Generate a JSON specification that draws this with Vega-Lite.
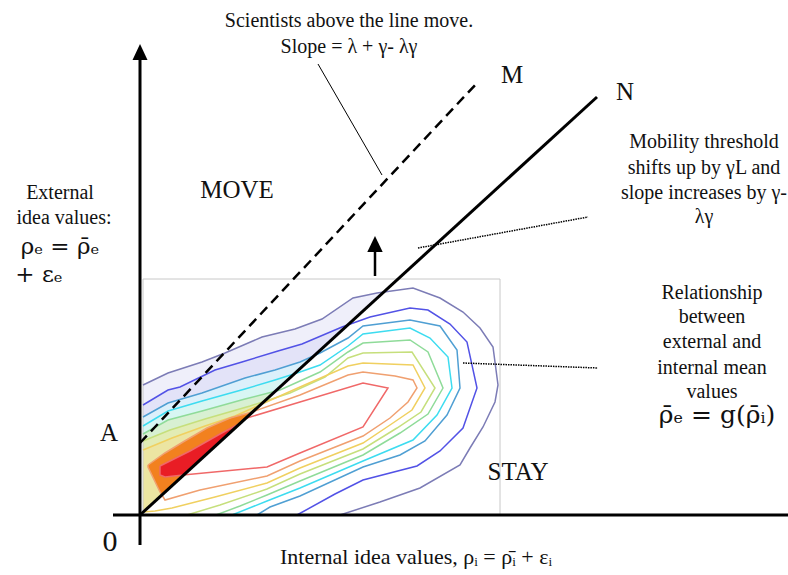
{
  "$schema": "https://vega.github.io/schema/vega-lite/v6.json",
  "width": 788,
  "height": 575,
  "autosize": {"type": "none"},
  "padding": 0,
  "background": "white",
  "config": {"view": {"stroke": null}},
  "datasets": {
    "contours": [
      {"l":"L1","i":0,"x":3,"y":130},{"l":"L1","i":1,"x":28,"y":142},{"l":"L1","i":2,"x":62,"y":153},{"l":"L1","i":3,"x":85,"y":162},{"l":"L1","i":4,"x":122,"y":178},{"l":"L1","i":5,"x":155,"y":186},{"l":"L1","i":6,"x":182,"y":196},{"l":"L1","i":7,"x":213,"y":217},{"l":"L1","i":8,"x":237,"y":222},{"l":"L1","i":9,"x":273,"y":227},{"l":"L1","i":10,"x":300,"y":217},{"l":"L1","i":11,"x":323,"y":203},{"l":"L1","i":12,"x":340,"y":187},{"l":"L1","i":13,"x":353,"y":168},{"l":"L1","i":14,"x":358,"y":130},{"l":"L1","i":15,"x":355,"y":113},{"l":"L1","i":16,"x":343,"y":88},{"l":"L1","i":17,"x":330,"y":67},{"l":"L1","i":18,"x":320,"y":50},{"l":"L1","i":19,"x":280,"y":27},{"l":"L1","i":20,"x":240,"y":13},{"l":"L1","i":21,"x":200,"y":0},{"l":"L1","i":22,"x":3,"y":0,"b":1},
      {"l":"L2","i":23,"x":3,"y":110},{"l":"L2","i":24,"x":28,"y":125},{"l":"L2","i":25,"x":40,"y":128},{"l":"L2","i":26,"x":75,"y":145},{"l":"L2","i":27,"x":102,"y":153},{"l":"L2","i":28,"x":138,"y":164},{"l":"L2","i":29,"x":162,"y":171},{"l":"L2","i":30,"x":202,"y":188},{"l":"L2","i":31,"x":230,"y":198},{"l":"L2","i":32,"x":270,"y":207},{"l":"L2","i":33,"x":288,"y":205},{"l":"L2","i":34,"x":310,"y":191},{"l":"L2","i":35,"x":327,"y":173},{"l":"L2","i":36,"x":337,"y":127},{"l":"L2","i":37,"x":323,"y":87},{"l":"L2","i":38,"x":300,"y":64},{"l":"L2","i":39,"x":277,"y":49},{"l":"L2","i":40,"x":223,"y":35},{"l":"L2","i":41,"x":195,"y":21},{"l":"L2","i":42,"x":157,"y":0},{"l":"L2","i":43,"x":3,"y":0,"b":1},
      {"l":"L3","i":44,"x":3,"y":98},{"l":"L3","i":45,"x":28,"y":112},{"l":"L3","i":46,"x":62,"y":122},{"l":"L3","i":47,"x":105,"y":137},{"l":"L3","i":48,"x":135,"y":145},{"l":"L3","i":49,"x":160,"y":153},{"l":"L3","i":50,"x":180,"y":162},{"l":"L3","i":51,"x":208,"y":177},{"l":"L3","i":52,"x":223,"y":189},{"l":"L3","i":53,"x":270,"y":195},{"l":"L3","i":54,"x":300,"y":189},{"l":"L3","i":55,"x":317,"y":165},{"l":"L3","i":56,"x":320,"y":127},{"l":"L3","i":57,"x":307,"y":100},{"l":"L3","i":58,"x":285,"y":74},{"l":"L3","i":59,"x":260,"y":60},{"l":"L3","i":60,"x":223,"y":48},{"l":"L3","i":61,"x":160,"y":19},{"l":"L3","i":62,"x":130,"y":8},{"l":"L3","i":63,"x":117,"y":0},{"l":"L3","i":64,"x":3,"y":0,"b":1},
      {"l":"L4","i":65,"x":3,"y":89},{"l":"L4","i":66,"x":28,"y":104},{"l":"L4","i":67,"x":62,"y":114},{"l":"L4","i":68,"x":105,"y":126},{"l":"L4","i":69,"x":135,"y":135},{"l":"L4","i":70,"x":160,"y":143},{"l":"L4","i":71,"x":180,"y":150},{"l":"L4","i":72,"x":208,"y":169},{"l":"L4","i":73,"x":223,"y":181},{"l":"L4","i":74,"x":270,"y":187},{"l":"L4","i":75,"x":290,"y":177},{"l":"L4","i":76,"x":308,"y":158},{"l":"L4","i":77,"x":312,"y":127},{"l":"L4","i":78,"x":297,"y":100},{"l":"L4","i":79,"x":273,"y":75},{"l":"L4","i":80,"x":223,"y":54},{"l":"L4","i":81,"x":160,"y":27},{"l":"L4","i":82,"x":127,"y":14},{"l":"L4","i":83,"x":92,"y":0},{"l":"L4","i":84,"x":3,"y":0,"b":1},
      {"l":"L5","i":85,"x":3,"y":81},{"l":"L5","i":86,"x":28,"y":95},{"l":"L5","i":87,"x":62,"y":104},{"l":"L5","i":88,"x":105,"y":116},{"l":"L5","i":89,"x":140,"y":125},{"l":"L5","i":90,"x":180,"y":143},{"l":"L5","i":91,"x":208,"y":163},{"l":"L5","i":92,"x":223,"y":172},{"l":"L5","i":93,"x":270,"y":175},{"l":"L5","i":94,"x":288,"y":163},{"l":"L5","i":95,"x":303,"y":127},{"l":"L5","i":96,"x":288,"y":101},{"l":"L5","i":97,"x":260,"y":82},{"l":"L5","i":98,"x":223,"y":60},{"l":"L5","i":99,"x":160,"y":34},{"l":"L5","i":100,"x":127,"y":20},{"l":"L5","i":101,"x":100,"y":9},{"l":"L5","i":102,"x":76,"y":0},{"l":"L5","i":103,"x":3,"y":0,"b":1},
      {"l":"L6","i":104,"x":3,"y":74},{"l":"L6","i":105,"x":30,"y":85},{"l":"L6","i":106,"x":65,"y":96},{"l":"L6","i":107,"x":110,"y":109},{"l":"L6","i":108,"x":150,"y":122},{"l":"L6","i":109,"x":185,"y":138},{"l":"L6","i":110,"x":208,"y":157},{"l":"L6","i":111,"x":223,"y":162},{"l":"L6","i":112,"x":272,"y":163},{"l":"L6","i":113,"x":295,"y":127},{"l":"L6","i":114,"x":281,"y":103},{"l":"L6","i":115,"x":257,"y":87},{"l":"L6","i":116,"x":223,"y":66},{"l":"L6","i":117,"x":160,"y":41},{"l":"L6","i":118,"x":127,"y":26},{"l":"L6","i":119,"x":80,"y":10},{"l":"L6","i":120,"x":47,"y":0},{"l":"L6","i":121,"x":3,"y":0,"b":1},
      {"l":"L7","i":122,"x":3,"y":65},{"l":"L7","i":123,"x":32,"y":77},{"l":"L7","i":124,"x":65,"y":89},{"l":"L7","i":125,"x":95,"y":99},{"l":"L7","i":126,"x":122,"y":111},{"l":"L7","i":127,"x":160,"y":128},{"l":"L7","i":128,"x":208,"y":149},{"l":"L7","i":129,"x":223,"y":152},{"l":"L7","i":130,"x":273,"y":150},{"l":"L7","i":131,"x":285,"y":127},{"l":"L7","i":132,"x":272,"y":105},{"l":"L7","i":133,"x":250,"y":90},{"l":"L7","i":134,"x":223,"y":72},{"l":"L7","i":135,"x":160,"y":47},{"l":"L7","i":136,"x":127,"y":32},{"l":"L7","i":137,"x":75,"y":18},{"l":"L7","i":138,"x":32,"y":7},{"l":"L7","i":139,"x":15,"y":4},{"l":"L7","i":140,"x":3,"y":3},
      {"l":"L8","i":141,"x":8,"y":50},{"l":"L8","i":142,"x":25,"y":62},{"l":"L8","i":143,"x":43,"y":73},{"l":"L8","i":144,"x":67,"y":87},{"l":"L8","i":145,"x":90,"y":97},{"l":"L8","i":146,"x":112,"y":103},{"l":"L8","i":147,"x":160,"y":120},{"l":"L8","i":148,"x":208,"y":140},{"l":"L8","i":149,"x":223,"y":143},{"l":"L8","i":150,"x":255,"y":139},{"l":"L8","i":151,"x":273,"y":135},{"l":"L8","i":152,"x":277,"y":127},{"l":"L8","i":153,"x":268,"y":113},{"l":"L8","i":154,"x":250,"y":97},{"l":"L8","i":155,"x":223,"y":79},{"l":"L8","i":156,"x":160,"y":54},{"l":"L8","i":157,"x":127,"y":39},{"l":"L8","i":158,"x":60,"y":25},{"l":"L8","i":159,"x":25,"y":15},{"l":"L8","i":160,"x":20,"y":23},{"l":"L8","i":161,"x":8,"y":48},{"l":"L8","i":162,"x":8,"y":50},
      {"l":"L9","i":163,"x":20,"y":49},{"l":"L9","i":164,"x":50,"y":64},{"l":"L9","i":165,"x":80,"y":81},{"l":"L9","i":166,"x":97,"y":90},{"l":"L9","i":167,"x":107,"y":97},{"l":"L9","i":168,"x":160,"y":113},{"l":"L9","i":169,"x":223,"y":132},{"l":"L9","i":170,"x":248,"y":127},{"l":"L9","i":171,"x":223,"y":88},{"l":"L9","i":172,"x":160,"y":62},{"l":"L9","i":173,"x":127,"y":48},{"l":"L9","i":174,"x":43,"y":40},{"l":"L9","i":175,"x":25,"y":38},{"l":"L9","i":176,"x":20,"y":40},{"l":"L9","i":177,"x":20,"y":49}
    ],
    "shapes": [
      {"s":"cover","i":0,"x":0,"y":0},{"s":"cover","i":1,"x":380,"y":0},{"s":"cover","i":2,"x":380,"y":347.7},
      {"s":"arrowV","i":0,"x":0,"y":471},{"s":"arrowV","i":1,"x":-7.5,"y":455},{"s":"arrowV","i":2,"x":7.5,"y":455},
      {"s":"arrowC","i":0,"x":235,"y":279},{"s":"arrowC","i":1,"x":227.3,"y":263},{"s":"arrowC","i":2,"x":242.7,"y":263}
    ],
    "segs": [
      {"k":"axis","x":0,"y":-30,"x2":0,"y2":456},
      {"k":"axis","x":-27,"y":0,"x2":648,"y2":0},
      {"k":"N","x":0,"y":0,"x2":457,"y2":418},
      {"k":"M","x":0,"y":72,"x2":337,"y2":432},
      {"k":"thin","x":178,"y":451,"x2":242,"y2":340},
      {"k":"dot","x":278,"y":267,"x2":448,"y2":298},
      {"k":"dot","x":323,"y":152,"x2":458,"y2":147},
      {"k":"shaft","x":235,"y":239,"x2":235,"y2":264}
    ],
    "box": [{"x":3,"y":0,"x2":360,"y2":236}],
    "texts": [
      {"g":"body","label":"Scientists above the line move.","x":209,"y":494},
      {"g":"body","label":"Slope = λ + γ- λγ","x":209,"y":468},
      {"g":"body","label":"Mobility threshold","x":564,"y":373},
      {"g":"body","label":"shifts up by γL and","x":564,"y":347},
      {"g":"body","label":"slope increases by γ-","x":564,"y":322},
      {"g":"body","label":"λγ","x":564,"y":298},
      {"g":"body","label":"Relationship","x":572,"y":222},
      {"g":"body","label":"between","x":572,"y":198},
      {"g":"body","label":"external and","x":572,"y":173},
      {"g":"body","label":"internal mean","x":572,"y":147},
      {"g":"body","label":"values","x":572,"y":123},
      {"g":"body","label":"External","x":-80,"y":322},
      {"g":"body","label":"idea values:","x":-76,"y":297},
      {"g":"xlab","label":"Internal idea values, ρᵢ = ρ̄ᵢ + εᵢ","x":276,"y":-42},
      {"g":"cap","label":"MOVE","x":97,"y":325},
      {"g":"cap","label":"STAY","x":378,"y":43},
      {"g":"cap","label":"A","x":-31,"y":82},
      {"g":"cap","label":"M","x":372,"y":440},
      {"g":"cap","label":"N","x":485,"y":423},
      {"g":"zero","label":"0","x":-30,"y":-27},
      {"g":"math","label":"ρₑ = ρ̄ₑ","x":-80,"y":268},
      {"g":"math","label":"+ εₑ","x":-101,"y":240},
      {"g":"formula","label":"ρ̄ₑ = g(ρ̄ᵢ)","x":577,"y":100}
    ]
  },
  "encoding": {
    "x": {"field": "x", "type": "quantitative", "scale": {"domain": [-140, 648], "nice": false, "zero": false}, "axis": null},
    "y": {"field": "y", "type": "quantitative", "scale": {"domain": [-60, 515], "nice": false, "zero": false}, "axis": null}
  },
  "layer": [
    {
      "data": {"name": "contours"},
      "mark": {"type": "line", "filled": true, "strokeWidth": 0, "interpolate": "linear"},
      "encoding": {
        "fill": {"field": "l", "type": "nominal", "legend": null,
          "scale": {"domain": ["L1","L2","L3","L4","L5","L6","L7","L8","L9"],
                    "range": ["#efeffa","#e3e3f8","#dcf0fb","#d8f6f3","#d8f0d2","#e2ecb4","#ece5a2","#f2811f","#e91d25"]}},
        "detail": {"field": "l"},
        "order": {"field": "i", "type": "quantitative"}
      }
    },
    {
      "data": {"name": "shapes"},
      "transform": [{"filter": "datum.s == 'cover'"}],
      "mark": {"type": "line", "filled": true, "fill": "white", "strokeWidth": 0},
      "encoding": {"order": {"field": "i", "type": "quantitative"}}
    },
    {
      "data": {"name": "box"},
      "mark": {"type": "rect", "filled": false, "stroke": "#c8c8c8", "strokeWidth": 1},
      "encoding": {"x2": {"field": "x2"}, "y2": {"field": "y2"}}
    },
    {
      "data": {"name": "contours"},
      "transform": [{"filter": "datum.b != 1"}],
      "mark": {"type": "line", "strokeWidth": 1.5, "interpolate": "linear"},
      "encoding": {
        "stroke": {"field": "l", "type": "nominal", "legend": null,
          "scale": {"domain": ["L1","L2","L3","L4","L5","L6","L7","L8","L9"],
                    "range": ["#7c7cb6","#5252e6","#4f9fd3","#3ddcf0","#8fdb99","#c6df7c","#f0d060","#f0a070","#f06868"]}},
        "detail": {"field": "l"},
        "order": {"field": "i", "type": "quantitative"}
      }
    },
    {
      "data": {"name": "segs"},
      "transform": [{"filter": "datum.k == 'axis' || datum.k == 'N'"}],
      "mark": {"type": "rule", "color": "black", "strokeWidth": 3},
      "encoding": {"x2": {"field": "x2"}, "y2": {"field": "y2"}}
    },
    {
      "data": {"name": "segs"},
      "transform": [{"filter": "datum.k == 'M'"}],
      "mark": {"type": "rule", "color": "black", "strokeWidth": 2.5, "strokeDash": [10, 6]},
      "encoding": {"x2": {"field": "x2"}, "y2": {"field": "y2"}}
    },
    {
      "data": {"name": "segs"},
      "transform": [{"filter": "datum.k == 'thin'"}],
      "mark": {"type": "rule", "color": "black", "strokeWidth": 1},
      "encoding": {"x2": {"field": "x2"}, "y2": {"field": "y2"}}
    },
    {
      "data": {"name": "segs"},
      "transform": [{"filter": "datum.k == 'dot'"}],
      "mark": {"type": "rule", "color": "black", "strokeWidth": 1.5, "strokeDash": [1.5, 1]},
      "encoding": {"x2": {"field": "x2"}, "y2": {"field": "y2"}}
    },
    {
      "data": {"name": "segs"},
      "transform": [{"filter": "datum.k == 'shaft'"}],
      "mark": {"type": "rule", "color": "black", "strokeWidth": 2.5},
      "encoding": {"x2": {"field": "x2"}, "y2": {"field": "y2"}}
    },
    {
      "data": {"name": "shapes"},
      "transform": [{"filter": "datum.s != 'cover'"}],
      "mark": {"type": "line", "filled": true, "fill": "black", "strokeWidth": 0},
      "encoding": {"detail": {"field": "s"}, "order": {"field": "i", "type": "quantitative"}}
    },
    {
      "data": {"name": "texts"},
      "transform": [{"filter": "datum.g == 'body'"}],
      "mark": {"type": "text", "font": "Liberation Serif", "fontSize": 20, "align": "center", "baseline": "middle", "color": "#111111"},
      "encoding": {"text": {"field": "label"}}
    },
    {
      "data": {"name": "texts"},
      "transform": [{"filter": "datum.g == 'xlab'"}],
      "mark": {"type": "text", "font": "Liberation Serif", "fontSize": 22, "align": "center", "baseline": "middle", "color": "#111111"},
      "encoding": {"text": {"field": "label"}}
    },
    {
      "data": {"name": "texts"},
      "transform": [{"filter": "datum.g == 'cap'"}],
      "mark": {"type": "text", "font": "Liberation Serif", "fontSize": 25, "align": "center", "baseline": "middle", "color": "#111111"},
      "encoding": {"text": {"field": "label"}}
    },
    {
      "data": {"name": "texts"},
      "transform": [{"filter": "datum.g == 'zero'"}],
      "mark": {"type": "text", "font": "Liberation Serif", "fontSize": 30, "align": "center", "baseline": "middle", "color": "#111111"},
      "encoding": {"text": {"field": "label"}}
    },
    {
      "data": {"name": "texts"},
      "transform": [{"filter": "datum.g == 'math'"}],
      "mark": {"type": "text", "font": "DejaVu Serif", "fontSize": 23, "align": "center", "baseline": "middle", "color": "#111111"},
      "encoding": {"text": {"field": "label"}}
    },
    {
      "data": {"name": "texts"},
      "transform": [{"filter": "datum.g == 'formula'"}],
      "mark": {"type": "text", "font": "DejaVu Serif", "fontSize": 25, "align": "center", "baseline": "middle", "color": "#111111"},
      "encoding": {"text": {"field": "label"}}
    }
  ]
}
